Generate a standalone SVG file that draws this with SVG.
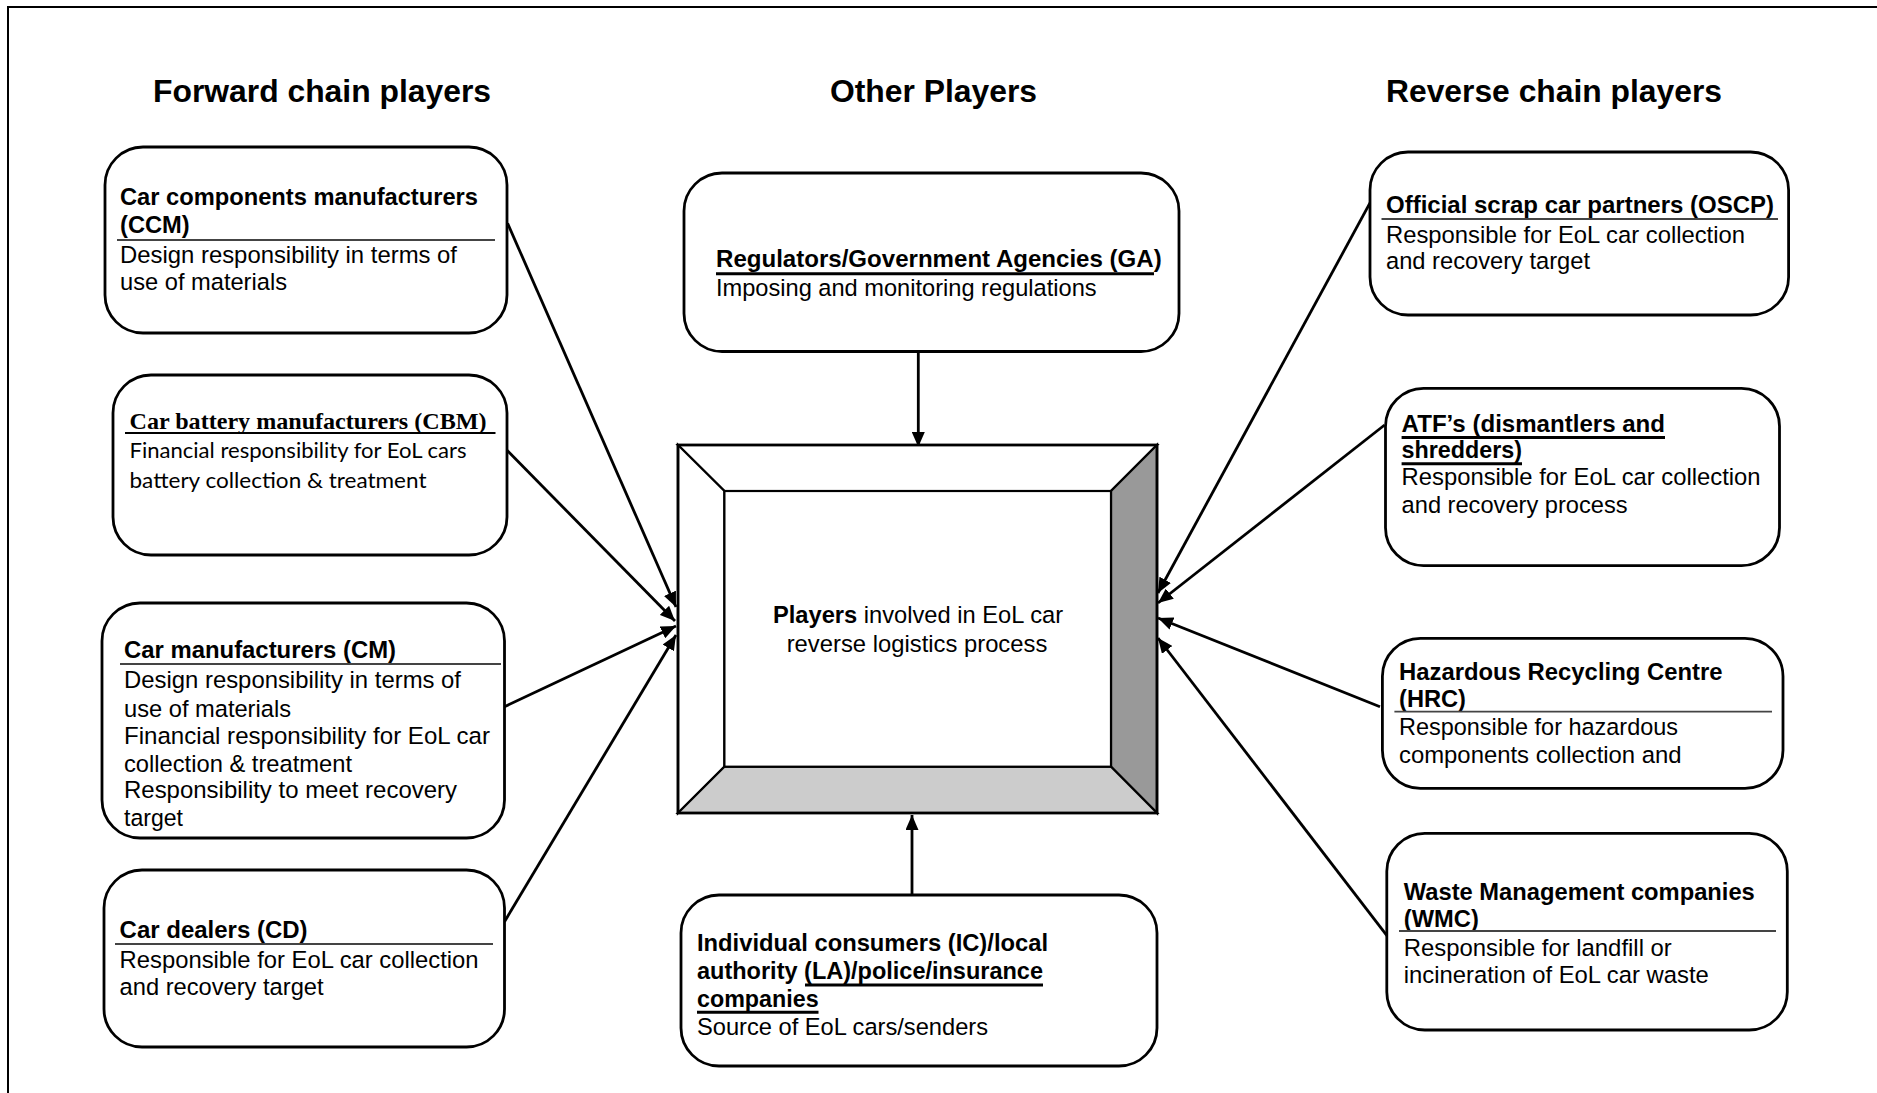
<svg xmlns="http://www.w3.org/2000/svg" width="1877" height="1093" viewBox="0 0 1877 1093">
  <defs>
    <marker id="ah" viewBox="0 0 15 13" markerWidth="15" markerHeight="13" refX="15" refY="6.5" markerUnits="userSpaceOnUse" orient="auto">
      <path d="M0,0 L15,6.5 L0,13 z" fill="#000"/>
    </marker>
    <style>
      .box { fill: #fff; stroke: #000; stroke-width: 2.8; }
      .t { font-family: "Liberation Sans", Arial, sans-serif; font-size: 23.7px; fill: #000; }
      .b { font-weight: bold; }
      .h { font-family: "Liberation Sans", Arial, sans-serif; font-size: 32px; font-weight: bold; fill: #000; }
      .serif { font-family: "Liberation Serif", "Times New Roman", serif; font-size: 24px; font-weight: bold; fill: #000; }
      .cal { font-family: Lato, "Open Sans", sans-serif; font-size: 22px; fill: #000; }
      .sep { stroke: #444; stroke-width: 1.8; }
      .ul { stroke: #000; stroke-width: 3; }
      .conn { stroke: #000; stroke-width: 2.8; fill: none; marker-end: url(#ah); }
      .bevel { stroke: #000; stroke-width: 2.2; stroke-linejoin: miter; }
    </style>
  </defs>

  <rect width="1877" height="1093" fill="#fff"/>
  <!-- outer frame -->
  <rect x="8" y="7" width="1900" height="1110" fill="none" stroke="#000" stroke-width="2"/>

  <!-- column headings -->
  <g id="headings">
    <text class="h" x="153" y="102" textLength="338" lengthAdjust="spacingAndGlyphs">Forward chain players</text>
    <text class="h" x="830" y="102" textLength="207" lengthAdjust="spacingAndGlyphs">Other Players</text>
    <text class="h" x="1386" y="102" textLength="336" lengthAdjust="spacingAndGlyphs">Reverse chain players</text>
  </g>

  <!-- connectors -->
  <g id="connectors">
    <line class="conn" x1="918.3" y1="351.7" x2="918.3" y2="447"/>
    <line class="conn" x1="912" y1="895" x2="912" y2="815"/>
    <line class="conn" x1="507.6" y1="223.3" x2="676" y2="607"/>
    <line class="conn" x1="506.7" y1="450" x2="675" y2="621"/>
    <line class="conn" x1="504.5" y1="706.7" x2="676" y2="626"/>
    <line class="conn" x1="504.5" y1="921.7" x2="676" y2="635"/>
    <line class="conn" x1="1373.4" y1="196.7" x2="1158" y2="593"/>
    <line class="conn" x1="1384.6" y1="425" x2="1158" y2="603"/>
    <line class="conn" x1="1380" y1="706.7" x2="1158" y2="618"/>
    <line class="conn" x1="1387.7" y1="936.7" x2="1158" y2="638"/>
  </g>

  <!-- forward chain -->
  <g id="ccm">
    <rect class="box" x="105" y="147" width="402" height="186" rx="38"/>
    <text class="t b" x="120" y="205" textLength="358" lengthAdjust="spacingAndGlyphs">Car components manufacturers</text>
    <text class="t b" x="120" y="233">(CCM)</text>
    <line class="sep" x1="117" y1="240" x2="495" y2="240"/>
    <text class="t" x="120" y="263" textLength="337" lengthAdjust="spacingAndGlyphs">Design responsibility  in terms of</text>
    <text class="t" x="120" y="290" textLength="167" lengthAdjust="spacingAndGlyphs">use of materials</text>
  </g>

  <g id="cbm">
    <rect class="box" x="113" y="375" width="394" height="180" rx="38"/>
    <text class="serif" x="129.5" y="428.5" textLength="357" lengthAdjust="spacingAndGlyphs">Car battery manufacturers (CBM)</text>
    <line x1="125" y1="433" x2="495.5" y2="433" stroke="#000" stroke-width="2"/>
    <text class="cal" x="129.5" y="457.7" textLength="337" lengthAdjust="spacingAndGlyphs">Financial responsibility for EoL cars</text>
    <text class="cal" x="129.5" y="487.7" textLength="297" lengthAdjust="spacingAndGlyphs">battery collection &amp; treatment</text>
  </g>

  <g id="cm">
    <rect class="box" x="102" y="603" width="402.5" height="235" rx="38"/>
    <text class="t b" x="124" y="658.3" textLength="272" lengthAdjust="spacingAndGlyphs">Car manufacturers (CM)</text>
    <line class="sep" x1="120" y1="664" x2="501" y2="664"/>
    <text class="t" x="124" y="688.3" textLength="337" lengthAdjust="spacingAndGlyphs">Design responsibility  in terms of</text>
    <text class="t" x="124" y="716.7" textLength="167" lengthAdjust="spacingAndGlyphs">use of materials</text>
    <text class="t" x="124" y="744" textLength="366" lengthAdjust="spacingAndGlyphs">Financial responsibility  for EoL car</text>
    <text class="t" x="124" y="771.7" textLength="228" lengthAdjust="spacingAndGlyphs">collection &amp; treatment</text>
    <text class="t" x="124" y="798.3" textLength="333" lengthAdjust="spacingAndGlyphs">Responsibility  to meet recovery</text>
    <text class="t" x="124" y="826" textLength="59" lengthAdjust="spacingAndGlyphs">target</text>
  </g>

  <g id="cd">
    <rect class="box" x="104" y="870" width="400.5" height="177" rx="38"/>
    <text class="t b" x="119.6" y="938.3" textLength="188" lengthAdjust="spacingAndGlyphs">Car dealers (CD)</text>
    <line class="sep" x1="115" y1="944" x2="493" y2="944"/>
    <text class="t" x="119.6" y="968.3" textLength="359" lengthAdjust="spacingAndGlyphs">Responsible  for EoL car collection</text>
    <text class="t" x="119.6" y="995" textLength="204" lengthAdjust="spacingAndGlyphs">and recovery target</text>
  </g>

  <!-- other players -->
  <g id="ga">
    <rect class="box" x="684" y="173" width="495" height="178.5" rx="38"/>
    <text class="t b" x="716" y="267.3" textLength="445.7" lengthAdjust="spacingAndGlyphs">Regulators/Government  Agencies (GA)</text>
    <line class="ul" x1="716" y1="273.8" x2="1154" y2="273.8"/>
    <text class="t" x="716" y="295.7" textLength="380.6" lengthAdjust="spacingAndGlyphs">Imposing and monitoring regulations</text>
  </g>

  <g id="players">
    <polygon points="678,445 1157,445 1111,491 724.4,491" fill="#fff" class="bevel"/>
    <polygon points="678,445 724.4,491 724.4,766.7 678,813" fill="#fff" class="bevel"/>
    <polygon points="1157,445 1157,813 1111,766.7 1111,491" fill="#999" class="bevel"/>
    <polygon points="678,813 724.4,766.7 1111,766.7 1157,813" fill="#ccc" class="bevel"/>
    <rect x="724.4" y="491" width="386.6" height="275.7" fill="#fff" stroke="#000" stroke-width="2.2"/>
    <rect x="678" y="445" width="479" height="368" fill="none" stroke="#000" stroke-width="2.8"/>
    <text class="t" x="918" y="623.3" text-anchor="middle"><tspan class="b">Players</tspan> involved in EoL car</text>
    <text class="t" x="917" y="651.7" text-anchor="middle" textLength="260.7" lengthAdjust="spacingAndGlyphs">reverse logistics  process</text>
  </g>

  <g id="ic">
    <rect class="box" x="681" y="895" width="476" height="171" rx="38"/>
    <text class="t b" x="697" y="950.7" textLength="351" lengthAdjust="spacingAndGlyphs">Individual  consumers (IC)/local</text>
    <text class="t b" x="697" y="979.3" textLength="346" lengthAdjust="spacingAndGlyphs">authority (LA)/police/insurance</text>
    <line class="ul" x1="805" y1="985" x2="1043" y2="985"/>
    <text class="t b" x="697" y="1006.7" textLength="121.6" lengthAdjust="spacingAndGlyphs">companies</text>
    <line class="ul" x1="697" y1="1012.3" x2="818.5" y2="1012.3"/>
    <text class="t" x="697" y="1035" textLength="291" lengthAdjust="spacingAndGlyphs">Source of EoL cars/senders</text>
  </g>

  <!-- reverse chain -->
  <g id="oscp">
    <rect class="box" x="1370" y="152" width="418.6" height="163" rx="38"/>
    <text class="t b" x="1386" y="213.3" textLength="388" lengthAdjust="spacingAndGlyphs">Official scrap car  partners (OSCP)</text>
    <line class="sep" x1="1381.5" y1="219" x2="1778" y2="219"/>
    <text class="t" x="1386" y="243.3" textLength="359" lengthAdjust="spacingAndGlyphs">Responsible  for EoL car collection</text>
    <text class="t" x="1386" y="269.3" textLength="204" lengthAdjust="spacingAndGlyphs">and recovery target</text>
  </g>

  <g id="atf">
    <rect class="box" x="1385.5" y="388.3" width="394" height="177.4" rx="38"/>
    <text class="t b" x="1401.6" y="431.7" textLength="263.4" lengthAdjust="spacingAndGlyphs">ATF’s (dismantlers  and</text>
    <line class="ul" x1="1401.6" y1="437.6" x2="1665" y2="437.6"/>
    <text class="t b" x="1401.6" y="458.3" textLength="120.5" lengthAdjust="spacingAndGlyphs">shredders)</text>
    <line class="ul" x1="1401.6" y1="463.8" x2="1522" y2="463.8"/>
    <text class="t" x="1401.6" y="485" textLength="359" lengthAdjust="spacingAndGlyphs">Responsible  for EoL car collection</text>
    <text class="t" x="1401.6" y="513.3" textLength="226" lengthAdjust="spacingAndGlyphs">and recovery process</text>
  </g>

  <g id="hrc">
    <rect class="box" x="1382.4" y="638.3" width="400.6" height="150" rx="38"/>
    <text class="t b" x="1399" y="680" textLength="323.5" lengthAdjust="spacingAndGlyphs">Hazardous Recycling  Centre</text>
    <text class="t b" x="1399" y="706.7" textLength="67" lengthAdjust="spacingAndGlyphs">(HRC)</text>
    <line class="sep" x1="1394.4" y1="711.7" x2="1772" y2="711.7"/>
    <text class="t" x="1399" y="735" textLength="279" lengthAdjust="spacingAndGlyphs">Responsible  for hazardous</text>
    <text class="t" x="1399" y="763.3" textLength="282.6" lengthAdjust="spacingAndGlyphs">components  collection  and</text>
  </g>

  <g id="wmc">
    <rect class="box" x="1386.8" y="833.3" width="400.5" height="196.7" rx="38"/>
    <text class="t b" x="1403.8" y="900" textLength="351" lengthAdjust="spacingAndGlyphs">Waste Management  companies</text>
    <text class="t b" x="1403.8" y="926.7" textLength="75" lengthAdjust="spacingAndGlyphs">(WMC)</text>
    <line class="sep" x1="1399" y1="931" x2="1776" y2="931"/>
    <text class="t" x="1403.8" y="956" textLength="268" lengthAdjust="spacingAndGlyphs">Responsible  for landfill  or</text>
    <text class="t" x="1403.8" y="983.3" textLength="305" lengthAdjust="spacingAndGlyphs">incineration  of EoL car waste</text>
  </g>
</svg>
